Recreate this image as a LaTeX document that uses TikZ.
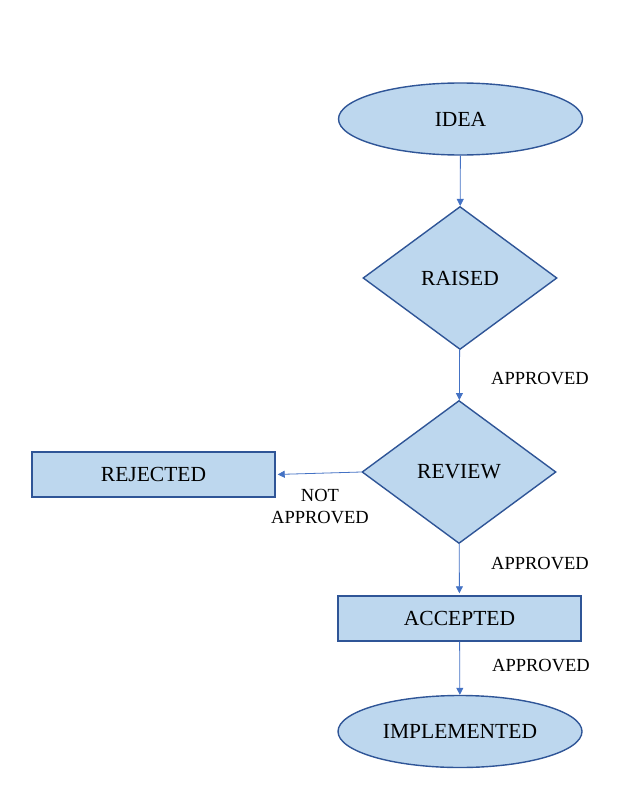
\documentclass[tikz,border=0pt]{standalone}
\usepackage{fontspec}
\setmainfont{Liberation Serif}
\usetikzlibrary{arrows.meta, shapes.geometric, positioning}

\definecolor{boxfill}{HTML}{BDD7EE}
\definecolor{boxline}{HTML}{2F5597}
\definecolor{flowline}{HTML}{4472C4}

\begin{document}
\begin{tikzpicture}[x=1pt, y=-1pt,
    state/.style={fill=boxfill, draw=boxline, line width=1.4pt, inner sep=0pt,
        font=\fontsize{21.5}{24}\selectfont},
    oval/.style={state, ellipse, minimum width=244pt, minimum height=72pt},
    check/.style={state, diamond, aspect=1.36, minimum width=194pt, minimum height=143pt},
    stepbox/.style={state, rectangle, minimum width=243pt, minimum height=45pt},
    flow/.style={flowline, line width=0.8pt, -{Triangle[length=7pt, width=7pt]}},
    tag/.style={font=\fontsize{18.5}{22}\selectfont, align=center}
]

\useasboundingbox (0,0) rectangle (622,792);

\node[oval] (idea) at (460.5,119) {IDEA};
\node[check] (raised) at (460,278) {RAISED};
\node[check] (review) at (459,472) {REVIEW};
\node[stepbox] (rejected) at (153.5,474.5) {REJECTED};
\node[stepbox] (accepted) at (459.5,618.5) {ACCEPTED};
\node[oval] (implemented) at (460,731.5) {IMPLEMENTED};

\draw[flow] (idea) -- (raised);
\draw[flow] (raised) -- (review);
\draw[flow, shorten >=2pt] (review.west) -- (rejected.east);
\draw[flow, shorten >=2pt] (review) -- (accepted);
\draw[flow] (accepted) -- (implemented);

\node[tag] at (540,379) {APPROVED};
\node[tag] at (540,564) {APPROVED};
\node[tag] at (541,666) {APPROVED};
\node[tag] at (320,507) {NOT\\APPROVED};

\end{tikzpicture}
\end{document}
